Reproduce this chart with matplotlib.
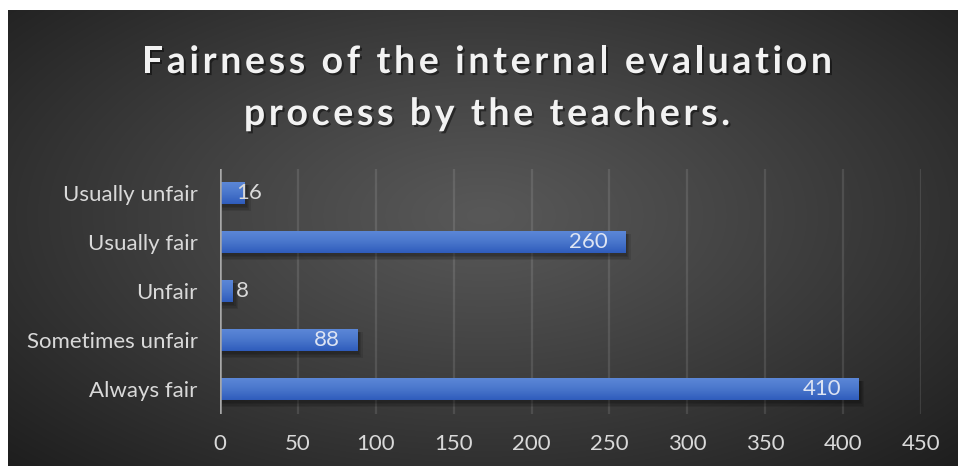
import numpy as np
import matplotlib
matplotlib.use('Agg')
import matplotlib.pyplot as plt
from matplotlib import patheffects as pe
from matplotlib.patches import Rectangle
from matplotlib.colors import LinearSegmentedColormap
from matplotlib.font_manager import FontProperties, findfont
from matplotlib.ft2font import FT2Font

categories = ['Always fair', 'Sometimes unfair', 'Unfair', 'Usually fair', 'Usually unfair']
values = [410, 88, 8, 260, 16]
xticks = [0, 50, 100, 150, 200, 250, 300, 350, 400, 450]
title_lines = ['Fairness of the internal evaluation', 'process by the teachers.']

W, H = 958, 466
DPI = 100
fig = plt.figure(figsize=(W / DPI, H / DPI), dpi=DPI)
fig.patch.set_facecolor('white')

# ---- background (radial gradient) ----
bx0, by_top = 8, 10
bg = fig.add_axes([bx0 / W, 0, 1 - bx0 / W, 1 - by_top / H])
ny, nx = H - by_top, W - bx0
yy, xx = np.mgrid[0:ny, 0:nx]
cx, cy = nx * 0.50, ny * 0.45
r = np.sqrt(((xx - cx) / (nx * 0.5)) ** 2 + ((yy - cy) / (ny * 0.55)) ** 2)
r = np.clip(r / r.max(), 0, 1)
c_in = np.array([0x58, 0x58, 0x58]) / 255
c_out = np.array([0x1e, 0x1e, 0x1e]) / 255
t = r[..., None] ** 1.1
img = c_in * (1 - t) + c_out * t
bg.imshow(img, aspect='auto', interpolation='bilinear')
bg.set_axis_off()

# ---- main axes ----
ax_l, ax_r = 220, 921
ax_t, ax_b = 168.5, 413.5
ax = fig.add_axes([ax_l / W, 1 - ax_b / H, (ax_r - ax_l) / W, (ax_b - ax_t) / H])
ax.patch.set_alpha(0)
for s in ax.spines.values():
    s.set_visible(False)

ypos = np.arange(len(categories))
bar_h = 0.46
px_x = 450 / (ax_r - ax_l)
px_y = 5 / (ax_b - ax_t)

cmap = LinearSegmentedColormap.from_list('b', ['#2f5cbc', '#4a77cc', '#5d88d8'])
grad = np.linspace(0, 1, 64).reshape(-1, 1)

for y, v in zip(ypos, values):
    # shadow
    for k, a in enumerate([0.10, 0.10, 0.10, 0.10]):
        grow = k * 1.2
        sh = Rectangle((0 + 2 * px_x, y - bar_h / 2 - 3 * px_y - grow * px_y),
                       v + grow * px_x, bar_h + 2 * grow * px_y * 0.5,
                       facecolor='black', edgecolor='none', alpha=a, zorder=2)
        ax.add_patch(sh)
    rect = Rectangle((0, y - bar_h / 2), v, bar_h, facecolor='none', edgecolor='none', zorder=3)
    ax.add_patch(rect)
    im = ax.imshow(grad, extent=[0, v, y - bar_h / 2, y + bar_h / 2], origin='lower',
                   cmap=cmap, aspect='auto', zorder=3, interpolation='bilinear')
    im.set_clip_path(rect)

ax.set_xlim(0, 450)
ax.set_ylim(-0.5, len(categories) - 0.5)
ax.set_xticks(xticks)
ax.set_yticks(ypos)
ax.set_yticklabels(categories)
for x in xticks[1:]:
    ax.axvline(x, color='white', alpha=0.11, lw=1.6, zorder=1)
ax.axvline(0, color='#a8a8a8', lw=1.8, zorder=4)

label_font = 'Lato'
fs = 16
ax.tick_params(axis='both', length=0, colors='#d9d9d9', labelsize=fs)
ax.tick_params(axis='x', pad=15)
ax.tick_params(axis='y', pad=16)
for lab in ax.get_xticklabels() + ax.get_yticklabels():
    lab.set_family(label_font)

# data labels
for y, v in zip(ypos, values):
    bar_px = v / px_x
    if bar_px > 60:
        ax.annotate(str(v), (v, y), xytext=(-17 * 72 / DPI, 0), textcoords='offset points',
                    ha='right', va='center', color='#dde4f3', fontsize=fs,
                    family=label_font, zorder=5)
    else:
        ax.annotate(str(v), (0, y), xytext=(16 * 72 / DPI, 0), textcoords='offset points',
                    ha='left', va='center', color='#d9d9d9', fontsize=fs,
                    family=label_font, zorder=5)

# ---- title with letter spacing ----
tprop = FontProperties(family='Lato', weight='bold', size=27)
font = FT2Font(findfont(tprop))
font.set_size(tprop.get_size_in_points(), DPI)


def advances(s):
    out = []
    for ch in s:
        g = font.load_char(ord(ch))
        out.append(g.linearHoriAdvance / 65536)
    return out


adv1 = advances(title_lines[0])
target_w = 690
track = (target_w - sum(adv1)) / (len(adv1) - 1)
track = max(track, 0)

title_centers = [(487, 73), (487, 125)]
shadow = [pe.withSimplePatchShadow(offset=(1.5, -1.5), shadow_rgbFace='black', alpha=0.45)]
for line, (xc, ybase) in zip(title_lines, title_centers):
    adv = advances(line)
    total = sum(adv) + track * (len(adv) - 1)
    x = xc - total / 2
    for ch, a in zip(line, adv):
        if ch != ' ':
            fig.text(x / W, 1 - ybase / H, ch, fontproperties=tprop, color='#f2f2f2',
                     ha='left', va='baseline', path_effects=shadow)
        x += a + track

fig.savefig('out.png', dpi=DPI)
